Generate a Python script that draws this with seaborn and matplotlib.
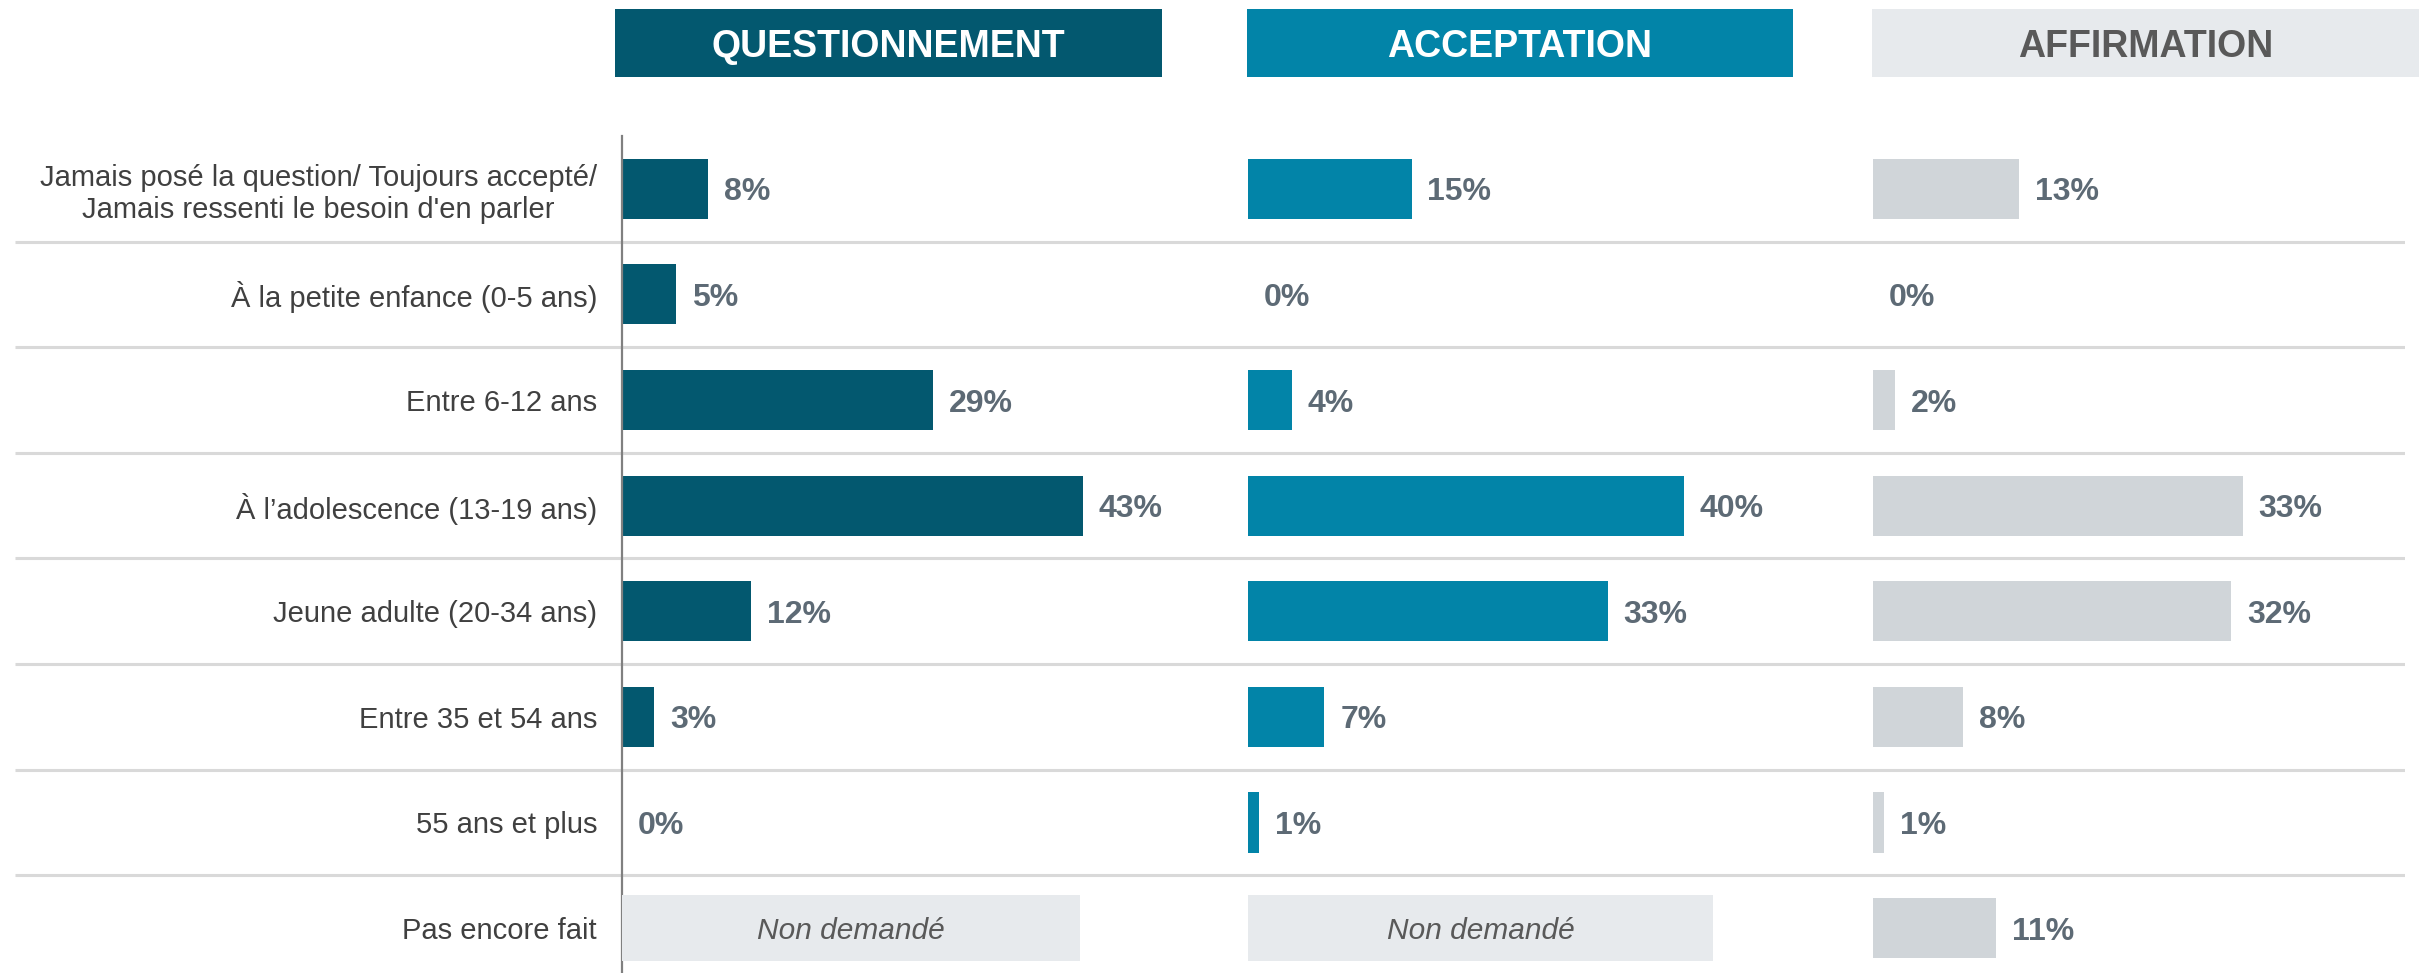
import matplotlib
matplotlib.use("Agg")
import matplotlib.pyplot as plt
from matplotlib.patches import Rectangle
import numpy as np
import seaborn as sns

# ---------------- data ----------------
categories = [
    "Jamais posé la question/ Toujours accepté/\nJamais ressenti le besoin d'en parler",
    "À la petite enfance (0-5 ans)",
    "Entre 6-12 ans",
    "À l’adolescence (13-19 ans)",
    "Jeune adulte (20-34 ans)",
    "Entre 35 et 54 ans",
    "55 ans et plus",
    "Pas encore fait",
]
questionnement = [8, 5, 29, 43, 12, 3, 0, None]
acceptation = [15, 0, 4, 40, 33, 7, 1, None]
affirmation = [13, 0, 2, 33, 32, 8, 1, 11]
panel_titles = ["QUESTIONNEMENT", "ACCEPTATION", "AFFIRMATION"]
not_asked_label = "Non demandé"
NOT_ASKED_SPAN = 42.7

# ---------------- style ----------------
sns.set_style("white")
plt.rcParams["font.family"] = ["Liberation Sans", "DejaVu Sans"]

W, H, DPI = 2422, 973, 100
fig = plt.figure(figsize=(W / DPI, H / DPI), dpi=DPI)


def px_axes(x0, y0, x1, y1, **kw):
    return fig.add_axes([x0 / W, 1 - y1 / H, (x1 - x0) / W, (y1 - y0) / H], **kw)


Y_TOP, Y_BOT = 136, 973
YLIM = (7.426, -0.5)

# background separators
bg = px_axes(15, Y_TOP, 2405, Y_BOT)
bg.set_xlim(0, 1)
bg.set_ylim(*YLIM)
bg.hlines(np.arange(len(categories) - 1) + 0.5, 0, 1, color="#D9D9D9", lw=2.2)
bg.axis("off")

panels = [
    dict(title=panel_titles[0], vals=questionnement, x0=622, x1=1162, xmax=50.4,
         color="#03586F", hx0=615, hx1=1162, hbg="#03586F", hfg="white"),
    dict(title=panel_titles[1], vals=acceptation, x0=1248, x1=1793, xmax=50.0,
         color="#0284A8", hx0=1247, hx1=1793, hbg="#0284A8", hfg="white"),
    dict(title=panel_titles[2], vals=affirmation, x0=1873, x1=2419, xmax=48.75,
         color="#D0D5D9", hx0=1872, hx1=2419, hbg="#E7EAED", hfg="#595959"),
]

label_color = "#5D6A75"

for k, p in enumerate(panels):
    ax = px_axes(p["x0"], Y_TOP, p["x1"], Y_BOT)
    ax.patch.set_alpha(0)
    cats = [c for c, v in zip(categories, p["vals"]) if v is not None]
    vals = [v for v in p["vals"] if v is not None]
    sns.barplot(x=vals, y=cats, order=categories, color=p["color"], saturation=1,
                width=0.57, linewidth=0, ax=ax, orient="h")
    ax.set_xlim(0, p["xmax"])
    ax.set_ylim(*YLIM)
    ax.set_xlabel("")
    ax.set_ylabel("")
    ax.set_xticks([])
    for s in ["top", "right", "bottom"]:
        ax.spines[s].set_visible(False)
    if k == 0:
        ax.spines["left"].set_color("#808080")
        ax.spines["left"].set_linewidth(1.6)
        ax.tick_params(axis="y", length=0, pad=18, labelsize=21, labelcolor="#404040")
        for t in ax.get_yticklabels():
            t.set_multialignment("center")
    else:
        ax.spines["left"].set_visible(False)
        ax.set_yticks([])

    for i, v in enumerate(p["vals"]):
        if v is None:
            ax.barh(i, NOT_ASKED_SPAN, height=0.63, color="#E7EAED", linewidth=0, zorder=3)
            ax.text(NOT_ASKED_SPAN / 2, i, not_asked_label, ha="center", va="center_baseline",
                    fontsize=21.5, fontstyle="italic", color="#595959", zorder=4)
        else:
            ax.annotate(f"{v}%", xy=(v, i), xytext=(11.5, 0), textcoords="offset points",
                        ha="left", va="center_baseline", fontsize=23, fontweight="bold",
                        color=label_color)

    # header
    hax = px_axes(p["hx0"], 9, p["hx1"], 77)
    hax.add_patch(Rectangle((0, 0), 1, 1, transform=hax.transAxes, color=p["hbg"], lw=0))
    hax.text(0.5, 0.5, p["title"], ha="center", va="center_baseline", fontsize=27,
             fontweight="bold", color=p["hfg"], transform=hax.transAxes)
    hax.axis("off")

fig.savefig("out.png", dpi=DPI)
